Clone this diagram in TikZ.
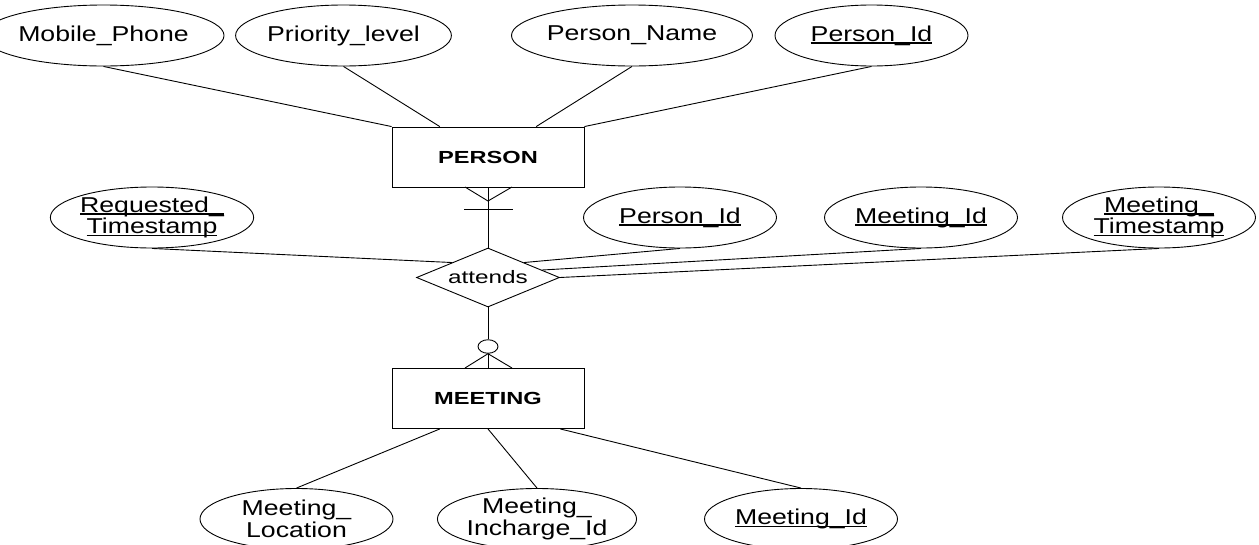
\documentclass[tikz,border=0pt]{standalone}
\usepackage{fontspec}
\setmainfont{Liberation Sans}[FakeStretch=1.35]
\newfontfamily\attrfont{Liberation Sans}[FakeStretch=1.24]
\usetikzlibrary{shapes.geometric,calc}
\newcommand\ukey[1]{\setbox0\hbox{#1}\rlap{\rule[-2.6pt]{\wd0}{1.5pt}}\box0}
\tikzset{
  attr/.style={ellipse,draw,line width=0.9pt,minimum width=193pt,minimum height=61pt,inner sep=0pt,
    align=center,font=\attrfont\fontsize{21.5}{21.5}\selectfont},
  entity/.style={rectangle,draw,line width=0.9pt,minimum width=192pt,minimum height=60pt,inner sep=0pt,
    font=\fontsize{17.5}{18}\selectfont\bfseries},
  rel/.style={diamond,draw,line width=0.9pt,aspect=2.4,minimum width=143pt,minimum height=59pt,inner sep=0pt,
    font=\fontsize{18}{18}\selectfont},
  conn/.style={line width=0.9pt},
}
\begin{document}
\begin{tikzpicture}[x=1pt,y=-1pt]
\useasboundingbox (0,0) rectangle (1259,544);
% top attributes
\node[attr] (mob) at (103.5,35.5) {Mobile\_Phone};
\node[attr] (pri) at (343.5,35.5) {Priority\_level};
\node[attr] (pname) at (632,35.5) {Person\_Name};
\node[attr] (pid) at (871.5,35.5) {\ukey{Person\_Id}};
% entities
\node[entity] (person) at (488,157) {PERSON};
\node[entity] (meeting) at (488,398.5) {MEETING};
% relationship
\node[rel] (att) at (488,277.5) {attends};
% middle attributes
\node[attr] (req) at (152,217.5) {\ukey{Requested\_}\\\ukey{Timestamp}};
\node[attr] (pid2) at (680,217.5) {\ukey{Person\_Id}};
\node[attr] (mid2) at (921,217.5) {\ukey{Meeting\_Id}};
\node[attr] (mts) at (1159,217.5) {\ukey{Meeting\_}\\\ukey{Timestamp}};
% lower attributes
\node[attr] (mloc) at (296.5,519) {Meeting\_\\Location};
\node[attr] (minc) at (537,519) {Meeting\_\\Incharge\_Id};
\node[attr] (mid) at (801,519) {\ukey{Meeting\_Id}};
% optional circle
\node[ellipse,draw,line width=0.9pt,minimum width=20pt,minimum height=13.5pt,inner sep=0pt] (circ) at (488,346.5) {};
% top connectors
\draw[conn] (mob.south) -- (person.north west);
\draw[conn] (pri.south) -- ($(person.north west)!0.25!(person.north east)$);
\draw[conn] (pname.south) -- ($(person.north west)!0.75!(person.north east)$);
\draw[conn] (pid.south) -- (person.north east);
% person - attends with crow's foot and bar
\coordinate (pv) at (488,201);
\draw[conn] (person.south) -- (att.north);
\draw[conn] (465,187) -- (pv) -- (512,187);
\coordinate (barl) at (464,209);
\coordinate (barr) at (513,209);
\draw[conn] (barl) -- (barr);
% middle connectors
\draw[conn] (req.south) -- ($(att.north)!0.5!(att.west)$);
\draw[conn] (pid2.south) -- ($(att.north)!0.5!(att.east)$);
\draw[conn] (mid2.south) -- ($(att.north)!0.75!(att.east)$);
\draw[conn] (mts.south) -- (att.east);
% attends - meeting
\draw[conn] (att.south) -- (circ.north);
\draw[conn] (circ.south) -- (meeting.north);
\draw[conn] (465,368) -- (circ.south) -- (512,368);
% lower connectors
\draw[conn] ($(meeting.south west)!0.25!(meeting.south east)$) -- (mloc.north);
\draw[conn] (meeting.south) -- (minc.north);
\draw[conn] ($(meeting.south west)!0.875!(meeting.south east)$) -- (mid.north);
\end{tikzpicture}
\end{document}
